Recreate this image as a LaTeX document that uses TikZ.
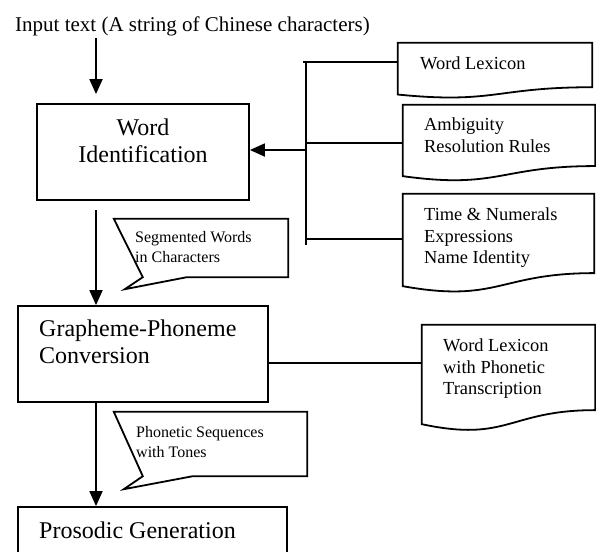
\documentclass[tikz,border=0pt]{standalone}
\usepackage{fontspec}
\setmainfont{Liberation Serif}
\usetikzlibrary{calc,arrows.meta}
\tikzset{
 ln/.style={line width=1.8pt},
 boxn/.style={draw, line width=1.8pt, inner sep=0pt},
 arr/.style={line width=1.8pt, -{Triangle[length=15pt,width=13pt]}},
 boxtxt/.style={font=\fontsize{24}{27}\selectfont, inner sep=0pt},
 doctxt/.style={font=\fontsize{18.4}{21.5}\selectfont, align=left, inner sep=0pt, anchor=west},
 calltxt/.style={font=\fontsize{16}{19.5}\selectfont, align=left, inner sep=0pt, anchor=west},
 shapen/.style={inner sep=0pt, draw=none},
}
\newcommand\docpath[1]{\draw[ln] (#1.north west) -- (#1.north east) -- ($(#1.north east)!0.802!(#1.south east)$) .. controls ($(#1.north)!0.802!(#1.south)$) and ($(#1.north)!1.1075!(#1.south)$) .. ($(#1.north west)!0.934!(#1.south west)$) -- cycle;}
\begin{document}
\begin{tikzpicture}[x=1pt,y=-1pt]
\useasboundingbox (0,0) rectangle (596,551);
% input
\node[font=\fontsize{21}{24}\selectfont, inner sep=0pt] (input) at (192.5,26) {Input text (A string of Chinese characters)};
% main boxes
\node[boxn, minimum width=212pt, minimum height=96pt] (wid) at (143,152) {};
\node[boxtxt, align=center] (widt) at (143,141) {Word\\Identification};
\node[boxn, minimum width=250pt, minimum height=96pt] (gpc) at (143,354) {};
\node[boxtxt, align=left, anchor=west] (gpct) at (39,342) {Grapheme-Phoneme\\Conversion};
\node[boxn, minimum width=269pt, minimum height=70pt] (pro) at (152.5,542) {};
\node[boxtxt, anchor=west] (prot) at (39,530) {Prosodic Generation};
% documents
\node[shapen, minimum width=194pt, minimum height=55pt] (d1) at (495,70.5) {};
\docpath{d1}
\node[doctxt] (d1t) at (420,63) {Word Lexicon};
\node[shapen, minimum width=192pt, minimum height=76pt] (d2) at (499,143) {};
\docpath{d2}
\node[doctxt] (d2t) at (424,135) {Ambiguity\\Resolution Rules};
\node[shapen, minimum width=191pt, minimum height=98.5pt] (d3) at (498.5,243.25) {};
\docpath{d3}
\node[doctxt] (d3t) at (424,238) {Time \& Numerals\\Expressions\\Name Identity};
\node[shapen, minimum width=173pt, minimum height=106pt] (d4) at (508.5,378) {};
\docpath{d4}
\node[doctxt] (d4t) at (443,369) {Word Lexicon\\with Phonetic\\Transcription};
% callouts
\node[shapen, minimum width=174pt, minimum height=58pt] (c1) at (201,248) {};
\draw[ln] (c1.north west) -- (c1.north east) -- (c1.south east) -- ($(c1.south west)+(73,0)$) -- ($(c1.south west)+(11,12)$) -- ($(c1.south west)+(29,0)$) -- cycle;
\node[calltxt] (c1t) at (135,247) {Segmented Words\\in Characters};
\node[shapen, minimum width=193pt, minimum height=64pt] (c2) at (210.5,444) {};
\draw[ln] (c2.north west) -- (c2.north east) -- (c2.south east) -- ($(c2.south west)+(79,0)$) -- ($(c2.south west)+(10,13)$) -- ($(c2.south west)+(29,0)$) -- cycle;
\node[calltxt] (c2t) at (136,442) {Phonetic Sequences\\with Tones};
% vertical flow arrows
\coordinate (a0) at (96,38);
\draw[arr, shorten >=9pt] (a0) -- (a0 |- wid.north);
\coordinate (a1) at (96,210);
\draw[arr] (a1) -- (a1 |- gpc.north);
\coordinate (a2) at (96,403);
\draw[arr] (a2) -- (a2 |- pro.north);
% bracket to resources
\coordinate (brtop) at (306,61);
\coordinate (brbot) at (306,245);
\draw[ln] (brtop) -- (brbot);
\coordinate (t1) at (303,62);
\draw[ln] (t1) -- (t1 -| d1.west);
\coordinate (t2) at (306,143);
\draw[ln] (t2) -- (t2 -| d2.west);
\coordinate (t3) at (306,239);
\draw[ln] (t3) -- (t3 -| d3.west);
\coordinate (t0) at (306,150);
\draw[arr] (t0) -- (t0 -| wid.east);
% grapheme to lexicon
\coordinate (g1) at (268,363);
\draw[ln] (g1) -- (g1 -| d4.west);
\end{tikzpicture}
\end{document}
